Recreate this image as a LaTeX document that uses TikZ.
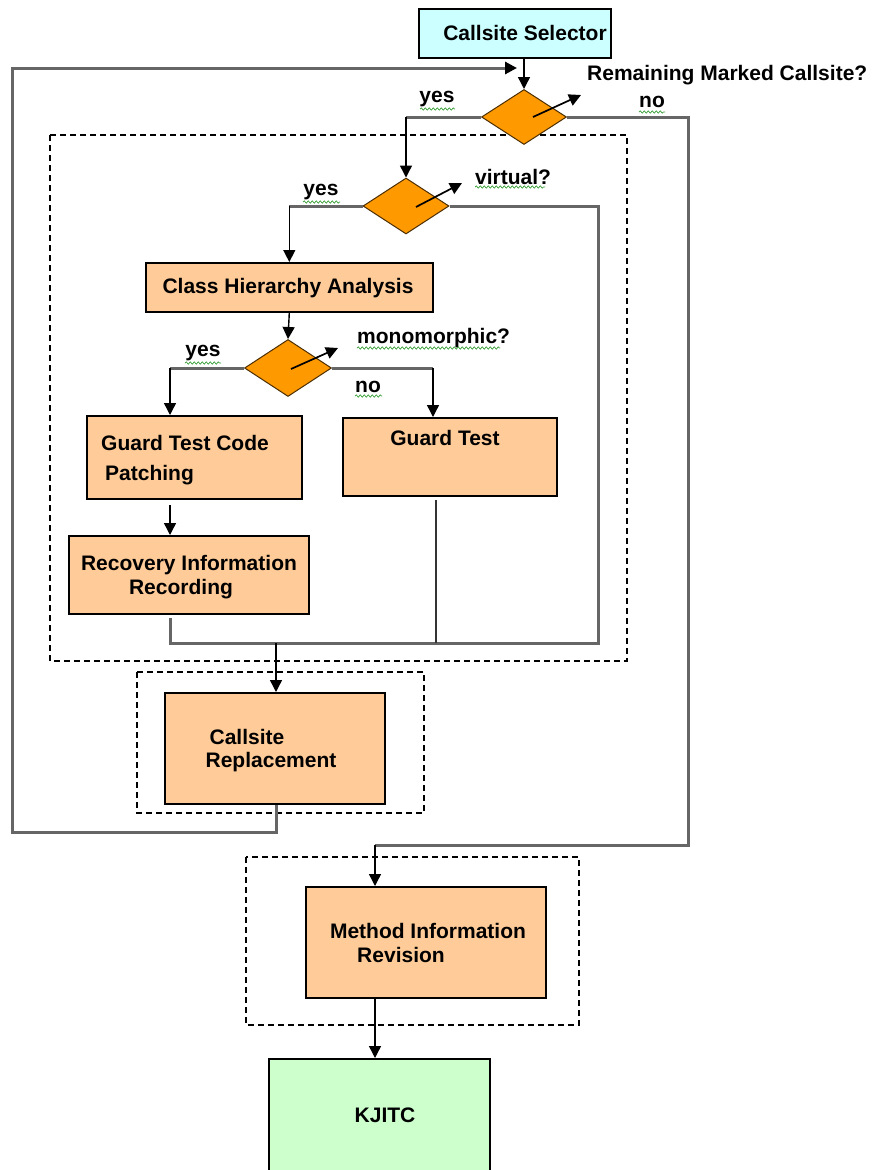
\documentclass[tikz,border=0pt]{standalone}
\usepackage{fontspec}
\setmainfont{Liberation Sans}
\usetikzlibrary{arrows.meta,shapes.geometric,decorations.pathmorphing}
\definecolor{peach}{HTML}{FFCC99}
\definecolor{cyanbox}{HTML}{CCFFFF}
\definecolor{greenbox}{HTML}{CCFFCC}
\definecolor{dia}{HTML}{FF9900}
\definecolor{routeg}{HTML}{666666}
\definecolor{squig}{HTML}{3AA13A}
\begin{document}
\begin{tikzpicture}[x=1pt,y=-1pt,
  txt/.style={font=\fontsize{21}{25}\selectfont\bfseries, inner sep=0, text=black},
  box/.style={draw=black, line width=1.6pt, fill=peach, rectangle, inner sep=0, anchor=north west},
  dbox/.style={draw=black, line width=1.3pt, dash pattern=on 6pt off 4pt},
  dec/.style={diamond, draw=black!70!dia, line width=1pt, fill=dia, inner sep=0, aspect=1.5},
  route/.style={draw=routeg, line width=3pt},
  arr/.style={draw=black, line width=1.4pt, -{Triangle[length=12pt,width=12pt]}},
  rarr/.style={draw=routeg, line width=3pt, -{Triangle[length=12pt,width=12pt,color=black]}},
  wavy/.style={draw=squig, line width=0.7pt, decorate, decoration={snake, amplitude=1.2pt, segment length=4pt}}
]
\useasboundingbox (0,0) rectangle (878,1170);
\fill[white] (0,0) rectangle (878,1170);

% dashed groups
\draw[dbox] (50,135) rectangle (627,661);
\draw[dbox] (137,672) rectangle (424,813);
\draw[dbox] (246,857) rectangle (579,1025);

% boxes
\node[box, fill=cyanbox, minimum width=192pt, minimum height=49pt] (sel) at (418,8) {};
\node[txt] at (525,33) {Callsite Selector};

\node[box, minimum width=287pt, minimum height=49pt] (cha) at (145,262) {};
\node[txt] at (288,288) {Class Hierarchy Analysis};

\node[box, minimum width=215pt, minimum height=83pt] (gtc) at (86,415) {};
\node[txt, anchor=west] at (101,443) {Guard Test Code};
\node[txt, anchor=west] at (105,475) {Patching};

\node[box, minimum width=214pt, minimum height=78pt] (gt) at (342,417) {};
\node[txt] at (445,438) {Guard Test};

\node[box, minimum width=240pt, minimum height=78pt] (rec) at (68,535) {};
\node[txt] at (189,565) {Recovery Information};
\node[txt] at (181,589) {Recording};

\node[box, minimum width=220pt, minimum height=111pt] (cr) at (164,692) {};
\node[txt] at (247,737) {Callsite};
\node[txt] at (271,762) {Replacement};

\node[box, minimum width=240pt, minimum height=111pt] (mir) at (305,886) {};
\node[txt] at (428,931) {Method Information};
\node[txt] at (401,955) {Revision};

\node[box, fill=greenbox, minimum width=221pt, minimum height=125pt] (kj) at (268,1058) {};
\node[txt] at (385,1115) {KJITC};

% decisions
\node[dec, minimum width=85pt, minimum height=55pt] (d1) at (524,117) {};
\node[dec, minimum width=86pt, minimum height=56pt] (d2) at (406,206) {};
\node[dec, minimum width=87pt, minimum height=57pt] (d3) at (288,368) {};

% diagonal arrows in decisions
\coordinate (d1t) at (581,95);
\coordinate (d2t) at (462,183);
\coordinate (d3t) at (338,348);
\draw[arr, line width=1.7pt] (533,117) -- (d1t);
\draw[arr, line width=1.7pt] (416,207) -- (d2t);
\draw[arr, line width=1.7pt] (291,369) -- (d3t);

% labels
\node[txt, anchor=west] (lrem) at (587,75) {Remaining Marked Callsite?};
\node[txt] (lyes1) at (437,99) {yes};
\node[txt] (lno1) at (652,102) {no};
\node[txt, anchor=west] (lvirt) at (475,177) {virtual?};
\node[txt] (lyes2) at (321,192) {yes};
\node[txt, anchor=west] (lmono) at (357,338) {monomorphic?};
\node[txt] (lyes3) at (203,353) {yes};
\node[txt] (lno3) at (368,387) {no};

% spelling squiggles
\draw[wavy] (420,109) -- (455,109);
\draw[wavy] (639,112) -- (665,112);
\draw[wavy] (475,187) -- (545,187);
\draw[wavy] (303,202) -- (340,202);
\draw[wavy] (357,348) -- (500,348);
\draw[wavy] (185,363) -- (221,363);
\draw[wavy] (355,396) -- (382,396);

% coordinates
\coordinate (loopin) at (517,68);
\coordinate (gtcin) at (170,415);
\coordinate (gtin) at (433,417);
\coordinate (gtcout) at (170,505);
\coordinate (recin) at (170,535);
\coordinate (recout) at (170,618);
\coordinate (gtout) at (436,500);
\coordinate (join) at (276,643);
\coordinate (crin) at (276,692);
\coordinate (crout) at (276,805);
\coordinate (mirin) at (375,886);
\coordinate (mirout) at (375,997);
\coordinate (kjin) at (375,1058);

% connectors
\draw[arr] (sel.south -| d1.north) -- (d1.north);
\draw[rarr] (crout) -- (276,832) -- (12,832) -- (12,68) -- (loopin);

\draw[route] (d1.west) -- (d1.west -| d2.north);
\draw[arr] (d1.west -| d2.north) -- (d2.north);

\draw[route] (d1.east) -- (688,117) -- (688,845) -- (375,845);
\draw[arr] (375,845) -- (mirin);

\draw[route] (d2.west) -- (d2.west -| cha.north);
\draw[arr] (d2.west -| cha.north) -- (cha.north);

\draw[route] (d2.east) -- (598,206) -- (598,643) -- (join);

\draw[arr] (cha.south) -- (d3.north);

\draw[route] (d3.west) -- (d3.west -| gtcin);
\draw[arr] (d3.west -| gtcin) -- (gtcin);
\draw[route] (d3.east) -- (d3.east -| gtin);
\draw[arr] (d3.east -| gtin) -- (gtin);

\draw[arr] (gtcout) -- (recin);
\draw[route] (recout) -- (170,643) -- (join);
\draw[route, line width=1.8pt, draw=black!80] (gtout) -- (436,643);
\draw[arr] (join) -- (crin);

\draw[arr] (mirout) -- (kjin);
\end{tikzpicture}
\end{document}
